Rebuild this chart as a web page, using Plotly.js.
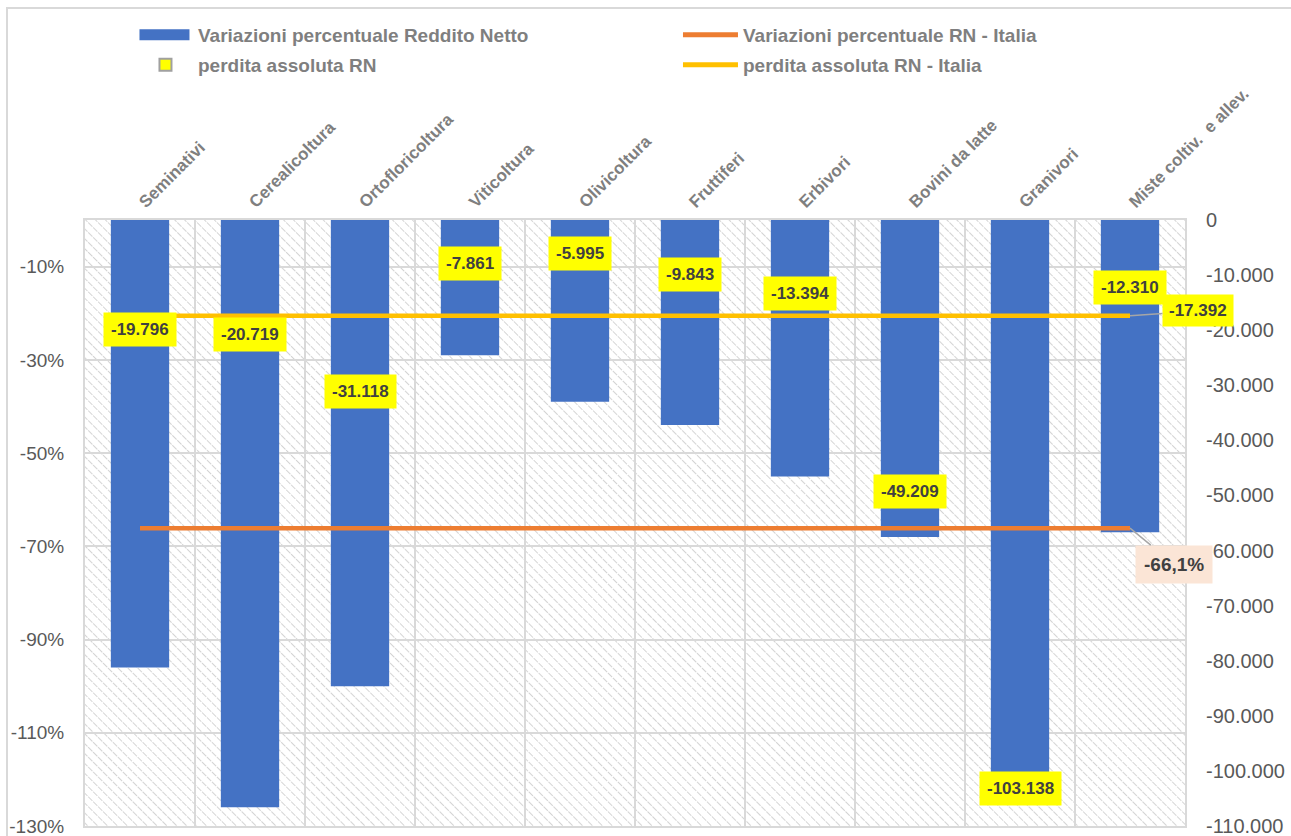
<!DOCTYPE html>
<html>
<head>
<meta charset="utf-8">
<script src="https://cdn.plot.ly/plotly-3.0.1.min.js"></script>
<style>
  html, body { margin: 0; padding: 0; background: #ffffff; }
  #chart { width: 1291px; height: 836px; }
  #frame { position: absolute; left: 6px; top: 7px; width: 1300px; height: 840px;
           border-left: 2px solid #d9d9d9; border-top: 2px solid #d9d9d9; pointer-events: none; }
</style>
</head>
<body>
<div id="chart"></div>
<div id="frame"></div>
<script>
// ---- data ----
const categories = ['Seminativi', 'Cerealicoltura', 'Ortofloricoltura', 'Viticoltura', 'Olivicoltura',
                    'Fruttiferi', 'Erbivori', 'Bovini da latte', 'Granivori', 'Miste coltiv.  e allev.'];
const pctChange = [-96, -126, -100, -29, -39, -44, -55, -68, -122, -67];          // Variazioni percentuale Reddito Netto (%)
const absLoss = [-19796, -20719, -31118, -7861, -5995, -9843, -13394, -49209, -103138, -12310]; // perdita assoluta RN
const italyPct = -66.1;      // Variazioni percentuale RN - Italia
const italyAbs = -17392;     // perdita assoluta RN - Italia

const leftTickVals = [-10, -30, -50, -70, -90, -110, -130];
const leftTickText = ['-10%', '-30%', '-50%', '-70%', '-90%', '-110%', '-130%'];
const rightTickVals = [0, -10000, -20000, -30000, -40000, -50000, -60000, -70000, -80000, -90000, -100000, -110000];
const rightTickText = ['0', '-10.000', '-20.000', '-30.000', '-40.000', '-50.000', '-60.000', '-70.000', '-80.000', '-90.000', '-100.000', '-110.000'];

const seriesNames = ['Variazioni percentuale Reddito Netto', 'Variazioni percentuale RN - Italia',
                     'perdita assoluta RN', 'perdita assoluta RN - Italia'];

function fmtIt(v) {
  const s = Math.abs(v).toString().replace(/\B(?=(\d{3})+(?!\d))/g, '.');
  return (v < 0 ? '-' : '') + s;
}

const FONT = 'Liberation Sans, Arial, sans-serif';

// hatch background image
const hatchSvg = '<svg xmlns="http://www.w3.org/2000/svg" width="1100" height="606" viewBox="0 0 1100 606">' +
  '<defs><pattern id="h" width="7" height="7" patternUnits="userSpaceOnUse" patternTransform="rotate(-45)">' +
  '<line x1="0" y1="0" x2="0" y2="7" stroke="#d4d4d4" stroke-width="2" stroke-dasharray="3 1"/></pattern></defs>' +
  '<rect width="1100" height="606" fill="url(#h)"/></svg>';
const hatchUri = 'data:image/svg+xml;base64,' + btoa(hatchSvg);

const traces = [
  {
    type: 'bar', name: seriesNames[0], x: categories, y: pctChange, yaxis: 'y', legend: 'legend',
    marker: { color: '#4472C4' }, width: 0.53, hoverinfo: 'x+y'
  },
  {
    type: 'scatter', mode: 'lines', name: seriesNames[1], x: categories, legend: 'legend',
    y: categories.map(() => italyPct), yaxis: 'y',
    line: { color: '#ED7D31', width: 4.5 }
  },
  {
    type: 'scatter', mode: 'markers', name: seriesNames[2], x: categories, y: absLoss, yaxis: 'y2',
    legend: 'legend2',
    marker: { symbol: 'square', size: 30, color: '#FFFF00', line: { color: '#a0a0a0', width: 1.5 } }
  },
  {
    type: 'scatter', mode: 'lines', name: seriesNames[3], x: categories, legend: 'legend2',
    y: categories.map(() => italyAbs), yaxis: 'y2',
    line: { color: '#FFC000', width: 4.5 }
  }
];

const annotations = categories.map((c, i) => ({
  x: c, y: absLoss[i], xref: 'x', yref: 'y2', text: '<b>' + fmtIt(absLoss[i]) + '</b>',
  showarrow: false, bgcolor: '#FFFF00', borderpad: 7,
  font: { family: FONT, size: 17, color: '#404040' }
}));
annotations.push({
  x: categories[categories.length - 1], y: italyAbs, xref: 'x', yref: 'y2',
  text: '<b>' + fmtIt(italyAbs) + '</b>', showarrow: true, arrowhead: 0, arrowwidth: 1.5,
  arrowcolor: '#a6a6a6', ax: 68, ay: -5, standoff: 0, bgcolor: '#FFFF00', borderpad: 6,
  font: { family: FONT, size: 17, color: '#404040' }
});
annotations.push({
  x: categories[categories.length - 1], y: italyPct, xref: 'x', yref: 'y',
  text: '<b>' + italyPct.toFixed(1).replace('.', ',') + '%</b>', showarrow: true, arrowhead: 0,
  arrowwidth: 1.5, arrowcolor: '#a6a6a6', ax: 44, ay: 36, standoff: 0,
  bgcolor: '#FBE5D6', borderpad: 8, font: { family: FONT, size: 19, color: '#404040' }
});

const legendBase = {
  orientation: 'h', xref: 'container', yref: 'container', x: 0.103,
  xanchor: 'left', yanchor: 'middle', entrywidth: 475, entrywidthmode: 'pixels',
  itemwidth: 55, itemsizing: 'constant', traceorder: 'normal', bgcolor: 'rgba(0,0,0,0)',
  font: { family: FONT, size: 19, color: '#7f7f7f', weight: 'bold' }
};

const layout = {
  width: 1291, height: 836,
  margin: { l: 85, r: 106, t: 220, b: 10 },
  paper_bgcolor: 'rgba(0,0,0,0)', plot_bgcolor: 'rgba(0,0,0,0)',
  font: { family: FONT, color: '#595959' },
  bargap: 0.47,
  showlegend: true,
  legend: Object.assign({}, legendBase, { y: 1 - 35 / 836 }),
  legend2: Object.assign({}, legendBase, { y: 1 - 65 / 836 }),
  xaxis: {
    type: 'category', side: 'top', tickangle: -45, tickson: 'boundaries', ticks: '',
    showgrid: true, gridcolor: '#d9d9d9', gridwidth: 2,
    showline: true, mirror: true, linecolor: '#d9d9d9', linewidth: 2,
    tickfont: { family: FONT, size: 17, color: '#7f7f7f', weight: 'bold' },
    range: [-0.5, categories.length - 0.5], fixedrange: true
  },
  yaxis: {
    range: [-130, 0], tickvals: leftTickVals, ticktext: leftTickText,
    showgrid: true, gridcolor: '#d9d9d9', gridwidth: 2, zeroline: false,
    showline: true, mirror: true, linecolor: '#d9d9d9', linewidth: 2,
    ticks: '', ticklabelstandoff: 15, ticklabeloverflow: 'allow',
    tickfont: { family: FONT, size: 19, color: '#595959' }
  },
  yaxis2: {
    overlaying: 'y', side: 'right', range: [-110000, 0],
    tickvals: rightTickVals, ticktext: rightTickText, ticklabeloverflow: 'allow',
    showgrid: false, zeroline: false, showline: false, ticks: '', ticklabelstandoff: 20,
    tickfont: { family: FONT, size: 20, color: '#595959' }
  },
  images: [{
    source: hatchUri, xref: 'paper', yref: 'paper', x: 0, y: 1, sizex: 1, sizey: 1,
    xanchor: 'left', yanchor: 'top', sizing: 'stretch', layer: 'below'
  }],
  annotations: annotations
};

Plotly.newPlot('chart', traces, layout, { displayModeBar: false, staticPlot: true }).then(gd => {
  // widen the bar legend swatch into a long rectangle, like the original legend
  const sw = gd.querySelector('.legend .traces .legendpoints path');
  if (sw) { sw.setAttribute('d', 'M-26,-5.5h50v11h-50Z'); }
});
</script>
</body>
</html>
